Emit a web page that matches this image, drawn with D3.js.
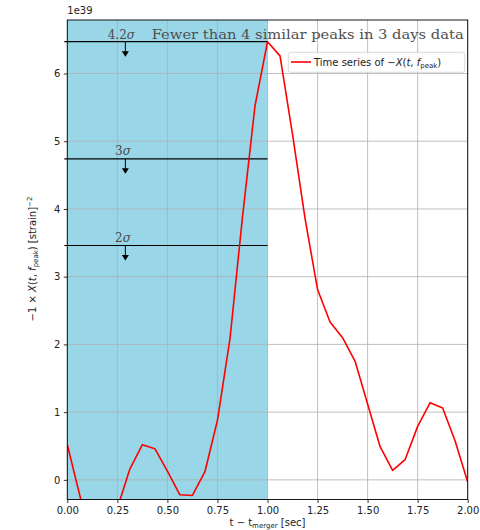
<!DOCTYPE html>
<html><head><meta charset="utf-8">
<script src="https://cdn.jsdelivr.net/npm/d3@7"></script>
<style>body{margin:0;background:#fff}svg{display:block}</style>
</head><body>
<script>
const times = [0,0.0625,0.125,0.1875,0.25,0.3125,0.375,0.4375,0.5,0.5625,0.625,0.6875,0.75,0.8125,0.875,0.9375,1.0,1.0625,1.125,1.1875,1.25,1.3125,1.375,1.4375,1.5,1.5625,1.625,1.6875,1.75,1.8125,1.875,1.9375,2.0];
const values = [0.52,-0.23,-1.0,-1.1,-0.42,0.16,0.52,0.46,0.13,-0.22,-0.23,0.12,0.88,2.08,3.88,5.52,6.47,6.26,5.1,3.86,2.81,2.33,2.1,1.75,1.12,0.49,0.14,0.30,0.79,1.14,1.06,0.57,-0.03];
const xTicks = [0,0.25,0.5,0.75,1.0,1.25,1.5,1.75,2.0];
const yTicks = [0,1,2,3,4,5,6];
const thresholdLevels = [6.47,4.74,3.46];
const thresholdLabels = ["4.2","3","2"];
const shadeRange = [0,1.0];

const W=480,H=530;
const L=67.3,R=467.7,T=20,B=499.5;
const svg=d3.select("body").append("svg").attr("width",W).attr("height",H).style("font-family","'DejaVu Sans',sans-serif");
const x=d3.scaleLinear().domain([0,2]).range([L,R]);
const y=d3.scaleLinear().domain([-0.29,6.79]).range([B,T]);

svg.append("defs").append("clipPath").attr("id","clip").append("rect").attr("x",L).attr("y",T).attr("width",R-L).attr("height",B-T);

// shaded region
svg.append("rect").attr("x",x(shadeRange[0])).attr("y",T).attr("width",x(shadeRange[1])-x(shadeRange[0])).attr("height",B-T).attr("fill","#99d7e8");

// grid
const g=svg.append("g");
g.selectAll(".gx").data(xTicks).enter().append("line").attr("x1",d=>x(d)).attr("x2",d=>x(d)).attr("y1",T).attr("y2",B).attr("stroke","#b0b0b0").attr("stroke-width",0.8);
g.selectAll(".gy").data(yTicks).enter().append("line").attr("x1",L).attr("x2",R).attr("y1",d=>y(d)).attr("y2",d=>y(d)).attr("stroke","#b0b0b0").attr("stroke-width",0.8);

// threshold lines
thresholdLevels.forEach((v,i)=>{
  svg.append("line").attr("x1",x(-0.015)).attr("x2",x(1.0)).attr("y1",y(v)).attr("y2",y(v)).attr("stroke","#000").attr("stroke-width",1.1);
  const ax=x(0.29), y0=y(v);
  svg.append("line").attr("x1",ax).attr("x2",ax).attr("y1",y0).attr("y2",y0+10).attr("stroke","#000").attr("stroke-width",1);
  svg.append("path").attr("d",`M${ax-3.5},${y0+9.5}L${ax+3.5},${y0+9.5}L${ax},${y0+15}Z`).attr("fill","#000");
});

// labels for thresholds
const serif="'DejaVu Serif',serif";
function sigmaLabel(xp, yp, num){
  const t=svg.append("text").attr("x",xp).attr("y",yp).attr("font-family",serif).attr("font-size",12).attr("fill","#4a4a4a");
  t.append("tspan").text(num);
  t.append("tspan").attr("font-style","italic").text("σ");
  return t;
}
sigmaLabel(107.7,38.5,thresholdLabels[0]);
svg.append("text").attr("x",151.7).attr("y",38.5).attr("font-family",serif).attr("font-size",13).attr("fill","#4f4f4f")
  .attr("textLength",312).attr("lengthAdjust","spacingAndGlyphs").text("Fewer than 4 similar peaks in 3 days data");
sigmaLabel(115,y(thresholdLevels[1])-3.5,thresholdLabels[1]);
sigmaLabel(115,y(thresholdLevels[2])-3.5,thresholdLabels[2]);

// red line
const line=d3.line().x((d,i)=>x(times[i])).y(d=>y(d));
svg.append("path").datum(values).attr("d",line).attr("fill","none").attr("stroke","#ff0000").attr("stroke-width",1.6).attr("clip-path","url(#clip)").attr("stroke-linejoin","round");

// axes frame
svg.append("rect").attr("x",L).attr("y",T).attr("width",R-L).attr("height",B-T).attr("fill","none").attr("stroke","#000").attr("stroke-width",0.9);

// ticks
const xa=d3.axisBottom(x).tickValues(xTicks).tickFormat(d3.format(".2f")).tickSizeOuter(0).tickSize(3.5).tickPadding(3.5);
const xg=svg.append("g").attr("transform",`translate(0,${B})`).call(xa);
const ya=d3.axisLeft(y).tickValues(yTicks).tickFormat(d3.format("d")).tickSizeOuter(0).tickSize(3.5).tickPadding(3.5);
const yg=svg.append("g").attr("transform",`translate(${L},0)`).call(ya);
[xg,yg].forEach(a=>{a.select(".domain").remove();a.selectAll("text").attr("font-size",10).attr("font-family","'DejaVu Sans',sans-serif").attr("fill","#222");a.selectAll("line").attr("stroke","#000").attr("stroke-width",0.8);});

svg.append("text").attr("x",L).attr("y",14).attr("font-size",10).attr("fill","#222").text("1e39");

// x label
const xl=svg.append("text").attr("x",(L+R)/2).attr("y",526).attr("text-anchor","middle").attr("font-size",10).attr("fill","#222");
xl.append("tspan").text("t − t");
xl.append("tspan").attr("font-size",7).attr("dy",2).text("merger");
xl.append("tspan").attr("dy",-2).text(" [sec]");

// y label
const yl=svg.append("text").attr("transform",`translate(36,259) rotate(-90)`).attr("text-anchor","middle").attr("font-size",10).attr("fill","#222");
yl.append("tspan").text("−1 × ");
yl.append("tspan").attr("font-style","italic").text("X");
yl.append("tspan").text("(");
yl.append("tspan").attr("font-style","italic").text("t");
yl.append("tspan").text(", ");
yl.append("tspan").attr("font-style","italic").text("f");
yl.append("tspan").attr("font-size",7).attr("dy",2).text("peak");
yl.append("tspan").attr("dy",-2).text(") [strain]");
yl.append("tspan").attr("font-size",7).attr("dy",-4).text("−2");

// legend
const lg=svg.append("g");
lg.append("rect").attr("x",288.3).attr("y",52.3).attr("width",176.5).attr("height",20).attr("rx",2.5).attr("fill","#fff").attr("fill-opacity",0.8).attr("stroke","#d0d0d0").attr("stroke-width",0.8);
lg.append("line").attr("x1",291).attr("x2",311).attr("y1",62).attr("y2",62).attr("stroke","#ff0000").attr("stroke-width",1.6);
const lt=lg.append("text").attr("x",314).attr("y",65.5).attr("font-size",10).attr("fill","#222");
lt.append("tspan").text("Time series of −");
lt.append("tspan").attr("font-style","italic").text("X");
lt.append("tspan").text("(");
lt.append("tspan").attr("font-style","italic").text("t");
lt.append("tspan").text(", ");
lt.append("tspan").attr("font-style","italic").text("f");
lt.append("tspan").attr("font-size",7).attr("dy",2).text("peak");
lt.append("tspan").attr("dy",-2).text(")");
</script>
</body></html>
